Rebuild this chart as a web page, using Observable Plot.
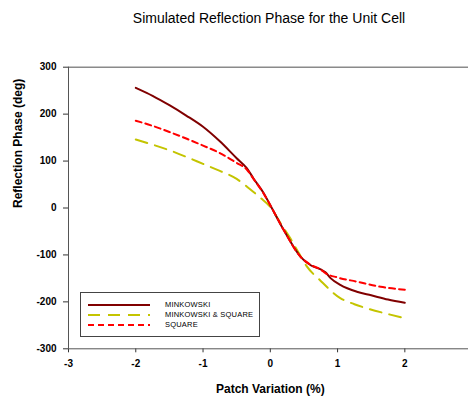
<!DOCTYPE html>
<html>
<head>
<meta charset="utf-8">
<script src="https://cdn.jsdelivr.net/npm/d3@7"></script>
<script src="https://cdn.jsdelivr.net/npm/@observablehq/plot@0.6"></script>
<style>
  html, body { margin: 0; padding: 0; background: white; }
  #wrap { position: relative; width: 468px; height: 398px; overflow: hidden; font-family: "Liberation Sans", Arial, sans-serif; }
  #title { position: absolute; left: 269px; top: 10px; transform: translateX(-50%); white-space: nowrap; font-size: 14px; color: #000; }
  #chart { position: absolute; left: 0; top: 40px; }
  #legend { position: absolute; left: 80px; top: 291.5px; width: 180px; height: 45px; border: 1px solid #444; background: white; box-sizing: border-box; }
  .lg { position: absolute; left: 7px; height: 10px; }
  .lg svg { position: absolute; left: 0; top: 0; }
  .lg span { position: absolute; left: 77px; top: 0px; font-size: 7.5px; line-height: 10px; white-space: nowrap; letter-spacing: 0.2px; color: #000; }
</style>
</head>
<body>
<div id="wrap">
  <div id="title">Simulated Reflection Phase for the Unit Cell</div>
  <div id="chart"></div>
  <div id="legend"></div>
</div>
<script>
// ---- data ----
const xTicks = [-3, -2, -1, 0, 1, 2, 3];
const yTicks = [-300, -200, -100, 0, 100, 200, 300];

const seriesNames = ["MINKOWSKI", "MINKOWSKI & SQUARE", "SQUARE"];

const minkX = [-2, -1.75, -1.5, -1.25, -1, -0.75, -0.5, -0.35, -0.25, -0.1, 0, 0.2, 0.45, 0.6, 0.75, 0.82, 0.9, 1.04, 1.3, 1.5, 1.75, 2];
const minkY = [256, 239, 219, 197, 173, 142, 106, 85, 63, 32, 6, -47, -104, -122, -131, -137, -150, -164, -179, -186, -195, -202];

const bothX = [-2, -1.75, -1.5, -1.25, -1, -0.75, -0.5, -0.3, -0.15, 0, 0.15, 0.3, 0.4, 0.54, 0.74, 1.04, 1.25, 1.44, 1.75, 2];
const bothY = [146, 135, 123, 109, 94, 79, 62, 40, 22, 2, -32, -65, -90, -124, -154, -192, -205, -214, -226, -235];

const squareX = [-2, -1.75, -1.5, -1.25, -1, -0.75, -0.5, -0.35, -0.25, -0.1, 0, 0.2, 0.45, 0.6, 0.75, 0.82, 1.0, 1.29, 1.64, 2];
const squareY = [186, 175, 162, 148, 133, 117, 96, 82, 62, 31, 6, -47, -104, -121, -131, -139, -148, -157, -168, -174];

// ---- styles ----
const styles = {
  "MINKOWSKI": { stroke: "#800000", dash: null },
  "MINKOWSKI & SQUARE": { stroke: "#c4c400", dash: "12,8" },
  "SQUARE": { stroke: "#ff0000", dash: "6,4" }
};

const toRows = (xs, ys) => xs.map((x, i) => ({ x, y: ys[i] }));
const data = {
  "MINKOWSKI": toRows(minkX, minkY),
  "MINKOWSKI & SQUARE": toRows(bothX, bothY),
  "SQUARE": toRows(squareX, squareY)
};

const lineMark = (name) => Plot.line(data[name], {
  x: "x", y: "y", curve: "monotone-x",
  stroke: styles[name].stroke, strokeWidth: 2,
  strokeDasharray: styles[name].dash || undefined
});

const chart = Plot.plot({
  width: 468,
  height: 358,
  marginLeft: 68,
  marginRight: -3.6,
  marginTop: 26.7,
  marginBottom: 49.7,
  style: { fontFamily: "'Liberation Sans', Arial, sans-serif", fontSize: "10px", background: "white", color: "#000" },
  x: { domain: [-3, 3], label: null },
  y: { domain: [-300, 300], label: null },
  marks: [
    Plot.ruleY([300], { stroke: "#8a8a8a", strokeWidth: 1.5 }),
    Plot.axisX({ ticks: xTicks, tickFormat: d => String(d), tickSize: 4, tickPadding: 7, fontWeight: "bold", stroke: "#333", label: null }),
    Plot.axisY({ ticks: yTicks, tickFormat: d => String(d), tickSize: 5, tickPadding: 7, fontWeight: "bold", stroke: "#333", label: null }),
    Plot.ruleX([-3], { stroke: "#555" }),
    Plot.ruleY([-300], { stroke: "#555" }),
    lineMark("MINKOWSKI & SQUARE"),
    lineMark("MINKOWSKI"),
    lineMark("SQUARE"),
    Plot.text(["Patch Variation (%)"], { frameAnchor: "bottom", dy: 44, lineAnchor: "bottom", fontWeight: "bold", fontSize: 12 }),
    Plot.text(["Reflection Phase (deg)"], { frameAnchor: "left", rotate: -90, dx: -50, fontWeight: "bold", fontSize: 12 })
  ]
});
document.getElementById("chart").appendChild(chart);

// ---- legend ----
const legend = document.getElementById("legend");
seriesNames.forEach((name, i) => {
  const row = document.createElement("div");
  row.className = "lg";
  row.style.top = (7 + i * 10.4) + "px";
  const s = styles[name];
  row.innerHTML = `<svg width="64" height="10"><line x1="0" x2="62" y1="5" y2="5" stroke="${s.stroke}" stroke-width="2" ${s.dash ? `stroke-dasharray="${s.dash}"` : ""}/></svg><span>${name}</span>`;
  legend.appendChild(row);
});
</script>
</body>
</html>
